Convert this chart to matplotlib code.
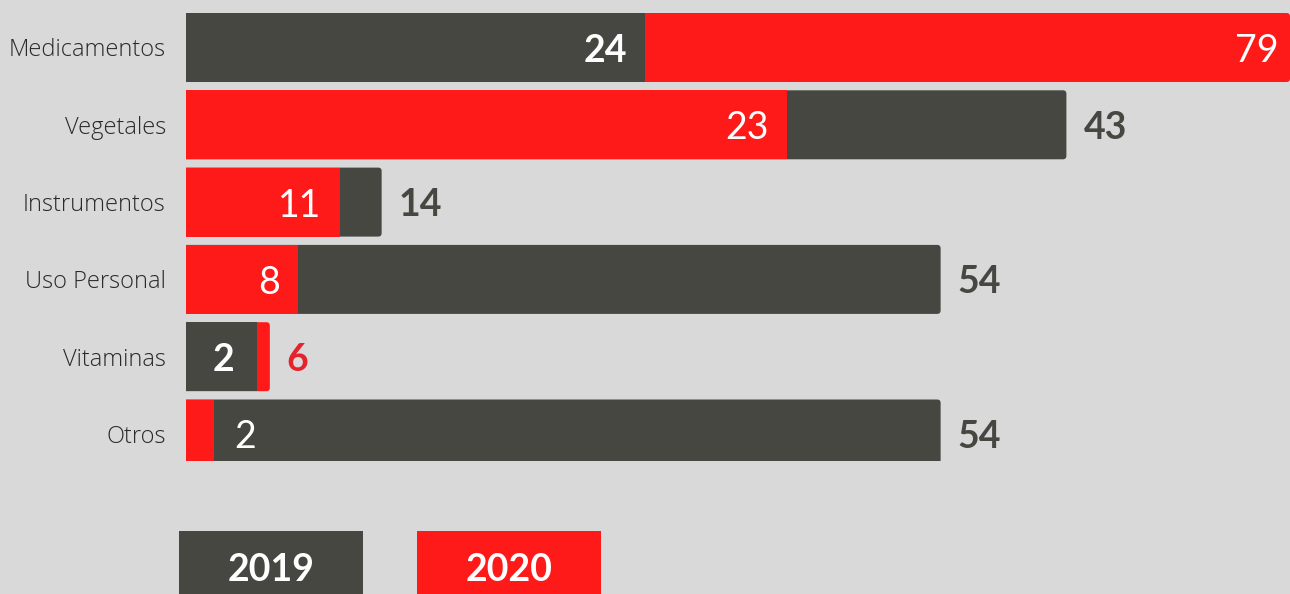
import matplotlib
matplotlib.use("Agg")
import matplotlib.pyplot as plt
from matplotlib.patches import FancyBboxPatch, Rectangle

# ---- data (bar lengths, labels as printed) ----
categories = ["Medicamentos", "Vegetales", "Instrumentos", "Uso Personal", "Vitaminas", "Otros"]
len2019 = [32.85, 63.0, 14.0, 54.0, 5.1, 54.0]
len2020 = [79.0, 43.0, 11.0, 8.0, 6.0, 2.0]
lab2019 = ["24", "43", "14", "54", "2", "54"]
lab2020 = ["79", "23", "11", "8", "6", "2"]
series_names = ["2019", "2020"]

# ---- style ----
BG = "#d9d9d9"
GRAY = "#474742"
RED = "#ff1a1a"
RED_TXT = "#e5232d"
CAT_FONT = ["Open Sans", "DejaVu Sans"]
NUM_FONT = ["Lato", "DejaVu Sans"]

W, H, DPI = 1290, 594, 100
fig = plt.figure(figsize=(W / DPI, H / DPI), dpi=DPI, facecolor=BG)

spacing_px = 77.3
c0_px = 47.5
ax_top, ax_bot = 0, 461
ax = fig.add_axes([186 / W, (H - ax_bot) / H, (W - 186) / W, (ax_bot - ax_top) / H])
ax.set_facecolor(BG)
xmax = 79.0
ax.set_xlim(0, xmax)
ax.set_ylim((ax_bot - c0_px) / spacing_px, (ax_top - c0_px) / spacing_px)
for s in ax.spines.values():
    s.set_visible(False)
ax.set_xticks([])
ax.set_yticks(range(len(categories)))
ax.set_yticklabels(categories, family=CAT_FONT, fontweight="light", fontsize=17, color="#2a2a2a")
ax.tick_params(axis="y", length=0, pad=14.5)

bar_h = 69 / spacing_px
px_per_unit = (W - 186) / xmax
rx = 3.5 / px_per_unit
ry = 3.5 / spacing_px

def back_bar(y, length, color):
    p = FancyBboxPatch((-1.0, y - bar_h / 2), length + 1.0, bar_h,
                       boxstyle=f"round,pad=0,rounding_size={rx}",
                       mutation_aspect=ry / rx, facecolor=color, edgecolor="none", zorder=2)
    ax.add_patch(p)

def front_bar(y, length, color):
    ax.barh(y, length, height=bar_h, left=0, color=color, zorder=3)

def px(v):
    return v / px_per_unit

NUM_SIZE = 27
def wt(series):
    return "bold" if series == 0 else "normal"

for i in range(len(categories)):
    vals = [len2019[i], len2020[i]]
    labs = [lab2019[i], lab2020[i]]
    cols = [GRAY, RED]
    txt_out = [GRAY, RED_TXT]
    back = 0 if vals[0] >= vals[1] else 1
    front = 1 - back
    back_bar(i, vals[back], cols[back])
    front_bar(i, vals[front], cols[front])

    if vals[back] >= xmax - 0.5:
        ax.text(vals[back] - px(11), i, labs[back], ha="right", va="center_baseline",
                color="white", family=NUM_FONT, fontsize=NUM_SIZE, fontweight=wt(back), zorder=5)
    else:
        ax.text(vals[back] + px(17), i, labs[back], ha="left", va="center_baseline",
                color=txt_out[back], family=NUM_FONT, fontsize=NUM_SIZE,
                fontweight="bold", zorder=5)
    if vals[front] < 3:
        ax.text(vals[front] + px(20), i, labs[front], ha="left", va="center_baseline",
                color="white", family=NUM_FONT, fontsize=NUM_SIZE, fontweight=wt(front), zorder=5)
    elif vals[front] < 7:
        ax.text(vals[front] / 2 + px(2), i, labs[front], ha="center", va="center_baseline",
                color="white", family=NUM_FONT, fontsize=NUM_SIZE, fontweight=wt(front), zorder=5)
    else:
        ax.text(vals[front] - px(18), i, labs[front], ha="right", va="center_baseline",
                color="white", family=NUM_FONT, fontsize=NUM_SIZE, fontweight=wt(front), zorder=5)

# ---- legend boxes at the bottom ----
leg_cols = [GRAY, RED]
leg_x = [179, 417]
for name, col, x0 in zip(series_names, leg_cols, leg_x):
    fig.add_artist(Rectangle((x0 / W, 0), 184 / W, (H - 531) / H,
                             transform=fig.transFigure, facecolor=col, edgecolor="none"))
    fig.text((x0 + 92) / W, (H - 567) / H, name, ha="center", va="center_baseline",
             color="white", family=NUM_FONT, fontsize=27, fontweight="bold")

fig.savefig("out.png", dpi=DPI, facecolor=BG)
